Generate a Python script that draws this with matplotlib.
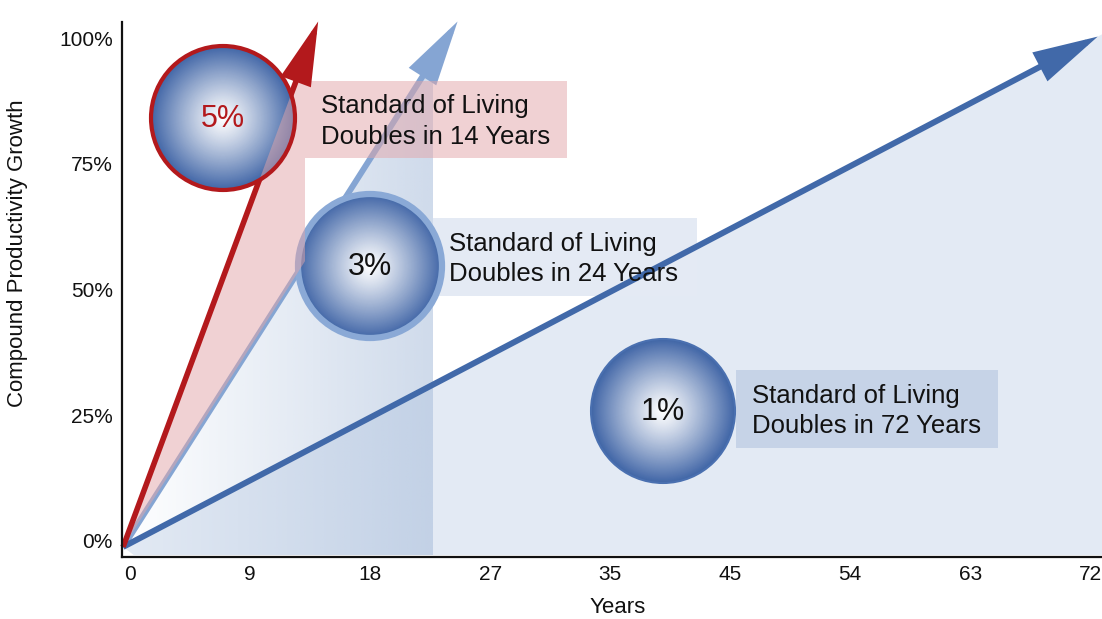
import numpy as np
import matplotlib
matplotlib.use('Agg')
import matplotlib.pyplot as plt
from matplotlib.colors import to_rgb
from matplotlib.patches import Circle, Polygon, Rectangle, FancyArrowPatch
from matplotlib.transforms import Affine2D, ScaledTranslation

plt.rcParams['font.family'] = ['Liberation Sans', 'DejaVu Sans']

# growth rate, years needed to double the standard of living
rates = ['5%', '3%', '1%']
doubling_years = [14, 24, 72]

year_ticks = [0, 9, 18, 27, 36, 45, 54, 63, 72]
year_labels = ['0', '9', '18', '27', '35', '45', '54', '63', '72']
growth_ticks = [0, 25, 50, 75, 100]
growth_labels = ['0%', '25%', '50%', '75%', '100%']

RED = '#B3191C'
LIGHT = '#85A5D3'
DARK = '#4169A9'
line_colors = [RED, LIGHT, DARK]
line_widths = [4.0, 4.3, 4.3]
line_z = [6.5, 3, 3]
overshoot = [1.045, 1.045, 1.015]

W, H = 1102, 619
fig = plt.figure(figsize=(W / 100, H / 100), dpi=100)
ax = fig.add_axes([122 / W, 62 / H, 980 / W, 535 / H])
x0, x1, y0, y1 = -0.08, 73.4, -2.0, 104.4
ax.set_xlim(x0, x1)
ax.set_ylim(y0, y1)

# pixel coordinates (origin top-left) for the callouts
tpx = Affine2D().scale(1 / W, -1 / H).translate(0, 1) + fig.transFigure


def px_x(px):
    return x0 + (px - 122) / 980 * (x1 - x0)


def px_y(py):
    return y0 + (557 - py) / 535 * (y1 - y0)


slope = [100 / y for y in doubling_years]
base = -1.6

# 1% wedge under the slow line
ax.add_patch(Polygon([(0, 0), (x1, slope[2] * x1), (x1, base), (0.8, base)],
                     closed=True, fc='#E3EAF4', ec='none', zorder=1))

# 3% wedge with a left-to-right gradient
cut3 = px_x(433)
clip3 = Polygon([(0, 0), (cut3, slope[1] * cut3), (cut3, base), (0.8, base)],
                closed=True, fc='none', ec='none', transform=ax.transData)
ax.add_patch(clip3)
ramp = np.zeros((2, 256, 4))
ramp[..., :3] = to_rgb('#A8BDDB')
ramp[..., 3] = np.linspace(0, 0.55, 256)
im = ax.imshow(ramp, extent=(0, cut3, base, y1), aspect='auto', zorder=1.5,
               interpolation='bilinear')
im.set_clip_path(clip3)

# callout boxes
boxes = [(305, 81, 567, 158), (433, 218, 697, 296), (736, 370, 998, 448)]
box_colors = ['#E2A5A9', '#E4EAF4', '#C6D3E7']
box_alpha = [0.5, 1, 1]
box_z = [6, 2, 2]
for (bx0, by0, bx1, by1), c, a, z, yrs in zip(boxes, box_colors, box_alpha, box_z, doubling_years):
    ax.add_patch(Rectangle((bx0, by0), bx1 - bx0, by1 - by0, transform=tpx,
                           fc=c, ec='none', alpha=a, zorder=z, clip_on=False))
    ax.text(bx0 + 16, (by0 + by1) / 2 + 2, 'Standard of Living\nDoubles in %d Years' % yrs,
            transform=tpx, ha='left', va='center', fontsize=18.5,
            linespacing=1.32, color='#111111', zorder=7, clip_on=False)

# pink wedge between the 5% and 3% lines
cut5 = px_x(305)
top5 = px_y(81)
pink_pts = [(0, 0), (top5 / slope[0], top5), (cut5, top5), (cut5, slope[1] * cut5)]
ax.add_patch(Polygon(pink_pts, closed=True, fc='#E2A5A9', ec='none',
                     alpha=0.5, zorder=6))

# growth lines with arrow heads
for yrs, c, lw, k, z in zip(doubling_years, line_colors, line_widths, overshoot, line_z):
    tip = (yrs * k, 100 * k)
    ax.add_patch(FancyArrowPatch((0, 0), tip,
                                 arrowstyle='-|>,head_length=1.8,head_width=0.45',
                                 mutation_scale=20, lw=lw, color=c,
                                 shrinkA=0, shrinkB=0, joinstyle='miter',
                                 capstyle='butt', zorder=z, clip_on=False))

# shaded rate badges
centers = [(223, 118), (370, 266), (663, 411)]
radius = 72
edge_col = np.array(to_rgb('#4166A7'))
white = np.ones(3)
ring_colors = [RED, '#8AA9D6', '#4A70B0']
ring_widths = [3.0, 4.5, 1.5]
text_colors = [RED, '#111111', '#111111']
badge_z = [6.8, 4, 4]
for (cx, cy), rc, rw, tc, lab, z in zip(centers, ring_colors, ring_widths,
                                        text_colors, rates, badge_z):
    n = 70
    for i in range(n):
        f = 1 - i / n
        col = white + (edge_col - white) * f ** 1.15
        ax.add_patch(Circle((cx, cy), radius * f, transform=tpx, fc=col,
                            ec='none', zorder=z, clip_on=False))
    ring = Circle((cx, cy), radius, transform=tpx, fc='none', ec=rc,
                  lw=rw, zorder=z + 0.15, clip_on=False)
    ax.add_patch(ring)
    ax.text(cx, cy + 1, lab, transform=tpx, ha='center', va='center',
            fontsize=22, color=tc, zorder=7.5, clip_on=False)
    if z > 6:
        # pink wedge seen through the 5% badge
        p = Polygon(pink_pts, closed=True, fc='#E2A5A9', ec='none',
                    alpha=0.5, zorder=z + 0.1)
        ax.add_patch(p)
        p.set_clip_path(Circle((cx, cy), radius, transform=tpx))

# axes
for s in ['top', 'right']:
    ax.spines[s].set_visible(False)
for s in ['left', 'bottom']:
    ax.spines[s].set_linewidth(1.6)
    ax.spines[s].set_color('#111111')
    ax.spines[s].set_zorder(8)

ax.set_xticks(year_ticks, year_labels)
ax.set_yticks(growth_ticks, growth_labels)
ax.tick_params(axis='both', length=0, labelsize=15, colors='#111111')
ax.tick_params(axis='x', pad=6)
ax.tick_params(axis='y', pad=6.5)
for t in ax.get_xticklabels():
    t.set_transform(t.get_transform() + ScaledTranslation(7 / 100, 0, fig.dpi_scale_trans))
for t in ax.get_yticklabels():
    t.set_transform(t.get_transform() + ScaledTranslation(0, 6 / 100, fig.dpi_scale_trans))

fig.text(18 / W, 1 - 253 / H, 'Compound Productivity Growth', rotation=90,
         ha='center', va='center', fontsize=16, color='#111111')
fig.text(618 / W, 1 - 597 / H, 'Years', ha='center', va='top',
         fontsize=16, color='#111111')

fig.savefig('out.png', dpi=100)
